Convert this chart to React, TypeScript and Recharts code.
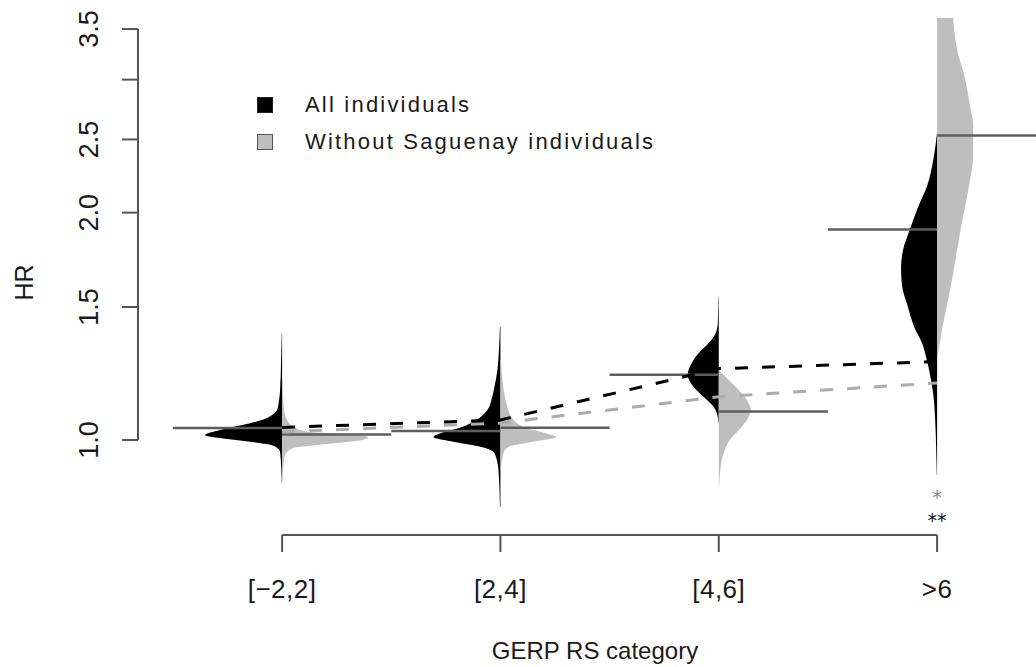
import { ComposedChart, Area, Line, XAxis, YAxis, ReferenceLine, ReferenceDot, Legend } from "recharts"

const FONT = "'Liberation Sans', Arial, sans-serif"

const categories = ["[−2,2]", "[2,4]", "[4,6]", ">6"]
const positions = [1, 2, 3, 4]
const hrTicks = [1, 1.5, 2, 2.5, 3, 3.5]

// medians of each half bean
const medianAll = [1.037, 1.028, 1.22, 1.9]
const medianWithout = [1.017, 1.038, 1.091, 2.53]

// dashed lines between the groups
const trendAll = [1.039, 1.063, 1.243, 1.27]
const trendWithout = [1.025, 1.053, 1.141, 1.19]

// [HR, density] along each half bean, from bottom to top
const beansAll = [
  [[0.877, 0.3], [0.964, 2], [0.982, 8], [0.994, 30], [1.006, 62], [1.015, 77], [1.031, 62], [1.047, 40], [1.063, 20], [1.079, 10], [1.096, 5], [1.13, 3], [1.165, 2], [1.276, 1], [1.386, 0.3]],
  [[0.815, 0.5], [0.913, 2], [0.961, 6], [0.979, 19], [0.994, 46], [1.009, 67], [1.022, 59], [1.04, 39], [1.063, 24], [1.096, 13], [1.13, 9], [1.175, 6], [1.238, 3], [1.316, 1.5], [1.411, 0.5]],
  [[1.053, 0.3], [1.073, 1], [1.106, 5], [1.14, 15], [1.175, 25], [1.219, 31], [1.265, 27], [1.304, 20], [1.344, 10], [1.386, 3], [1.429, 1], [1.546, 0.3]],
  [[0.899, 0.3], [0.982, 1], [1.069, 2], [1.154, 4], [1.219, 7], [1.288, 11], [1.344, 15], [1.403, 22], [1.514, 30], [1.599, 35], [1.689, 36], [1.785, 34], [1.902, 27], [2.035, 19], [2.169, 10], [2.341, 4], [2.557, 0]],
]
const beansWithout = [
  [[0.885, 0.5], [0.952, 2.5], [0.964, 5], [0.976, 11], [0.985, 35], [0.994, 65], [1.0, 80], [1.009, 86], [1.018, 65], [1.025, 28], [1.04, 12], [1.063, 5], [1.096, 2], [1.201, 0.5]],
  [[0.913, 0.5], [0.961, 3], [0.979, 8], [0.994, 31], [1.009, 56], [1.022, 44], [1.04, 24], [1.073, 11], [1.119, 6], [1.201, 2], [1.276, 0.5]],
  [[0.866, 0.3], [0.941, 3], [0.97, 6], [1.0, 11], [1.031, 20], [1.063, 28], [1.096, 32], [1.13, 28], [1.165, 20], [1.201, 10], [1.236, 0.5]],
  [[1.288, 0], [1.316, 1.5], [1.403, 5], [1.514, 10], [1.634, 15], [1.785, 20], [1.95, 25], [2.104, 30], [2.216, 33], [2.37, 36], [2.473, 36], [2.613, 36], [2.76, 33], [2.916, 30], [3.08, 26], [3.244, 21], [3.62, 16]],
]

// significance marks under the >6 group (without Saguenay above, all below)
const starGroup = 4
const starHr = 0.843
const stars = [
  { text: "*", color: "#8a8a8a" },
  { text: "**", color: "#111111" },
]

const legendItems = [
  { label: "All individuals", color: "#000000", border: "#222" },
  { label: "Without Saguenay individuals", color: "#bebebe", border: "#555" },
]

const X_DOMAIN = [0.34, 4.453]
const Y_DOMAIN = [0.7486, 3.62]
const BEAN_SCALE = 1 / 218
const HALF = 0.5

const beanRows = (pairs: number[][], pos: number, side: number) =>
  pairs.map(([hr, d]) => ({
    hr,
    v: side < 0 ? [pos - d * BEAN_SCALE, pos] : [pos, pos + d * BEAN_SCALE],
  }))

const medianRow = (m: number, i: number, side: number) => [
  { p: positions[i] + side * HALF, hr: m },
  { p: positions[i], hr: m },
]

const trendRows = (vals: number[]) => vals.map((hr, i) => ({ p: positions[i], hr }))

const XTick = ({ x, y, payload }: any) => (
  <text x={x} y={y + 46} textAnchor="middle" fontFamily={FONT} fontSize={26} letterSpacing={0.5} fill="#1a1a1a">
    {categories[positions.indexOf(payload.value)]}
  </text>
)

const YTick = ({ x, y, payload }: any) => {
  if (payload.value === 3) return null // label dropped in the original (overlap)
  const tx = x - 24
  return (
    <text x={tx} y={y} transform={`rotate(-90 ${tx} ${y})`} textAnchor="middle" fontFamily={FONT} fontSize={27} fill="#1a1a1a">
      {payload.value.toFixed(1)}
    </text>
  )
}

const XTitle = ({ viewBox }: any) => (
  <text x={viewBox.x + viewBox.width / 2 + 8} y={viewBox.y + 124} textAnchor="middle" fontFamily={FONT} fontSize={24} fill="#1a1a1a">
    GERP RS category
  </text>
)

const YTitle = ({ viewBox }: any) => {
  const cx = viewBox.x + 24
  const cy = viewBox.y + viewBox.height / 2 + 6
  return (
    <text x={cx} y={cy} transform={`rotate(-90 ${cx} ${cy})`} textAnchor="middle" dominantBaseline="central" fontFamily={FONT} fontSize={25} fill="#1a1a1a">
      HR
    </text>
  )
}

const StarLabel = ({ viewBox }: any) => {
  const cx = viewBox.x + viewBox.width / 2
  const cy = viewBox.y + viewBox.height / 2
  return (
    <text x={cx} y={cy + 8} textAnchor="middle" fontFamily="'DejaVu Sans', sans-serif" fontSize={19}>
      {stars.map((s, i) => (
        <tspan key={s.text} x={cx} dy={i === 0 ? 0 : 23} fill={s.color}>{s.text}</tspan>
      ))}
    </text>
  )
}

const LegendBox = () => (
  <div style={{ fontFamily: FONT, fontSize: 22, letterSpacing: 2.2, color: "#1a1a1a" }}>
    {legendItems.map((it) => (
      <div key={it.label} style={{ display: "flex", alignItems: "center", height: 37, whiteSpace: "nowrap" }}>
        <span style={{ display: "inline-block", width: 16, height: 16, boxSizing: "border-box", background: it.color, border: `1.5px solid ${it.border}`, marginRight: 32 }} />
        {it.label}
      </div>
    ))}
  </div>
)

const lineProps = { dot: false, activeDot: false, isAnimationActive: false } as const

export default function App() {
  return (
    <div style={{ position: "absolute", left: 0, top: 0, background: "#fff" }}>
      <ComposedChart layout="vertical" width={1036} height={667} margin={{ top: 18, right: 0, bottom: 0, left: 0 }}>
        <XAxis
          type="number"
          domain={X_DOMAIN}
          allowDataOverflow
          ticks={positions}
          interval={0}
          axisLine={false}
          tickLine={{ stroke: "#555", strokeWidth: 2 }}
          tickSize={17}
          tickMargin={0}
          height={132}
          tick={(p: any) => <XTick {...p} />}
          label={<XTitle />}
        />
        <YAxis
          type="number"
          dataKey="hr"
          scale="log"
          reversed
          domain={Y_DOMAIN}
          allowDataOverflow
          ticks={hrTicks}
          interval={0}
          axisLine={false}
          tickLine={{ stroke: "#555", strokeWidth: 2 }}
          tickSize={16}
          tickMargin={0}
          width={138}
          tick={(p: any) => <YTick {...p} />}
          label={<YTitle />}
        />

        {medianAll.map((m, i) => (
          <Line key={`mall-${i}`} data={medianRow(m, i, -1)} dataKey="p" stroke="#5e5e5e" strokeWidth={2.5} {...lineProps} />
        ))}

        {beansAll.map((pairs, i) => (
          <Area key={`all-${i}`} data={beanRows(pairs, positions[i], -1)} dataKey="v" type="monotone" stroke="none" fill="#000000" fillOpacity={1} {...lineProps} />
        ))}
        {beansWithout.map((pairs, i) => (
          <Area key={`wo-${i}`} data={beanRows(pairs, positions[i], 1)} dataKey="v" type="monotone" stroke="none" fill="#bebebe" fillOpacity={1} {...lineProps} />
        ))}

        {medianWithout.map((m, i) => (
          <Line key={`mwo-${i}`} data={medianRow(m, i, 1)} dataKey="p" stroke="#5e5e5e" strokeWidth={2.5} {...lineProps} />
        ))}

        <Line data={trendRows(trendWithout)} dataKey="p" stroke="#acacac" strokeWidth={3} strokeDasharray="13 14" {...lineProps} />
        <Line data={trendRows(trendAll)} dataKey="p" stroke="#000000" strokeWidth={3} strokeDasharray="13 14" {...lineProps} />

        <ReferenceLine segment={[{ x: X_DOMAIN[0], y: hrTicks[0] }, { x: X_DOMAIN[0], y: hrTicks[hrTicks.length - 1] }]} stroke="#555" strokeWidth={2} ifOverflow="visible" />
        <ReferenceLine segment={[{ x: positions[0], y: Y_DOMAIN[0] }, { x: positions[positions.length - 1], y: Y_DOMAIN[0] }]} stroke="#555" strokeWidth={2} ifOverflow="visible" />

        <ReferenceDot x={starGroup} y={starHr} r={0} fill="none" stroke="none" ifOverflow="visible" label={<StarLabel />} />

        <Legend layout="vertical" align="center" verticalAlign="middle" content={() => <LegendBox />}
          wrapperStyle={{ left: 257, top: 86, width: 460 }} />
      </ComposedChart>
    </div>
  )
}
